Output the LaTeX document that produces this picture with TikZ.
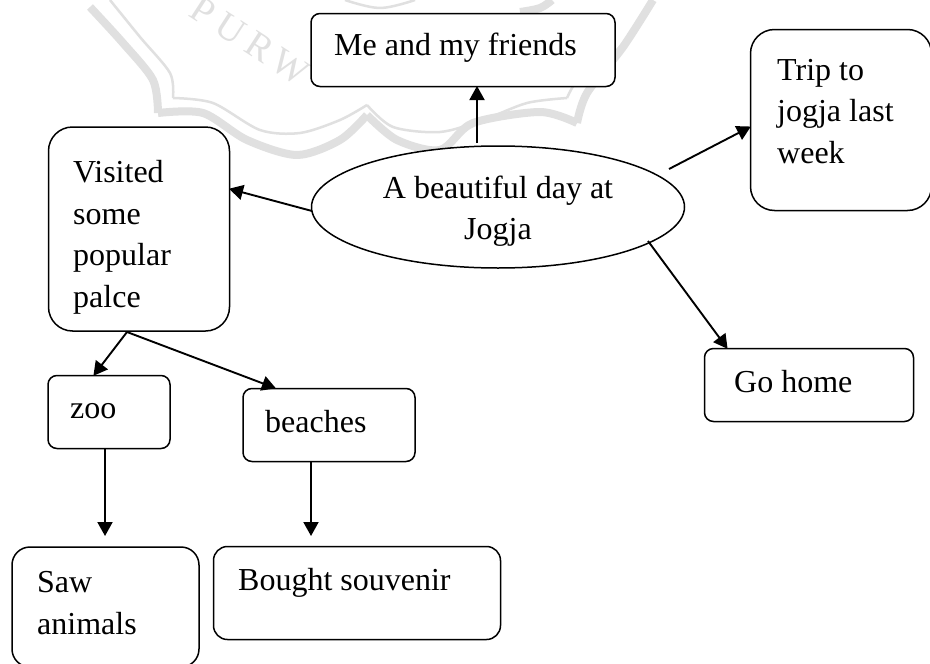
\documentclass[tikz,border=0pt]{standalone}
\usepackage{fontspec}
\setmainfont{Liberation Serif}
\usetikzlibrary{arrows.meta,shapes.geometric}
\definecolor{wm}{HTML}{E0E0E0}
\tikzset{
 box/.style={draw,fill=white,line width=1.5pt,rounded corners=#1,inner sep=0pt},
 box/.default=9pt,
 lab/.style={inner sep=0pt,align=left,font=\fontsize{32}{41.5}\selectfont,anchor=base west},
 con/.style={draw,line width=1.9pt,-{Triangle[length=14pt,width=15pt]},shorten >=-1pt},
 wmthin/.style={draw=wm,line width=2.5pt,smooth,line join=round},
 wmthick/.style={draw=wm,line width=8pt,smooth,line join=round}
}
\begin{document}
\begin{tikzpicture}[x=1pt,y=-1pt]
\useasboundingbox (0,0) rectangle (930,664);
\fill[white] (0,0) rectangle (930,664);
% faint watermark behind the diagram
\draw[wmthin] plot[smooth,tension=0.5] coordinates {(110,0) (140,37) (170,73) (173,98)};
\draw[wmthin] plot[smooth,tension=0.5] coordinates {(173,98) (213,103) (260,130) (300,133) (340,120) (367,105)};
\draw[wmthin] plot[smooth,tension=0.5] coordinates {(367,105) (393,127) (440,132) (483,120) (527,103) (567,98)};
\draw[wmthin] plot[smooth,tension=0.5] coordinates {(567,98) (580,77) (617,50) (650,7)};
\draw[wmthick] plot[smooth,tension=0.5] coordinates {(90,7) (123,43) (153,80) (158,113)};
\draw[wmthick] plot[smooth,tension=0.5] coordinates {(158,113) (203,113) (247,140) (297,155) (340,140) (367,115)};
\draw[wmthick] plot[smooth,tension=0.5] coordinates {(367,115) (397,140) (440,150) (473,123) (540,112) (577,123)};
\draw[wmthick] plot[smooth,tension=0.5] coordinates {(577,123) (587,93) (623,47) (653,0)};
\draw[wmthin] plot[smooth,tension=0.6] coordinates {(345,0) (380,8) (415,0)};
\draw[wmthick] plot[smooth,tension=0.6] coordinates {(520,12) (540,8) (552,0)};
\node[inner sep=0pt,text=wm,rotate=-33,font=\fontsize{38}{38}\selectfont\addfontfeature{LetterSpace=22}] (wmtext) at (250,41) {PURW};
% boxes
\node[box=9pt,minimum width=304pt,minimum height=73pt] (me) at (463,50) {};
\node[box=24pt,minimum width=181pt,minimum height=181pt] (trip) at (841,120) {};
\node[box=24pt,minimum width=181pt,minimum height=204pt] (vis) at (139,229) {};
\node[draw,fill=white,line width=1.5pt,ellipse,minimum width=373pt,minimum height=122pt,inner sep=0pt] (main) at (498,207) {};
\node[box=9pt,minimum width=209pt,minimum height=73pt] (home) at (809,385) {};
\node[box=9pt,minimum width=122pt,minimum height=73pt] (zoo) at (109,412) {};
\node[box=9pt,minimum width=172pt,minimum height=73pt] (bea) at (329,425) {};
\node[box=18pt,minimum width=187pt,minimum height=120pt] (saw) at (105.5,607) {};
\node[box=14pt,minimum width=287pt,minimum height=93pt] (bou) at (357,593) {};
% labels
\node[lab] (t1) at (334,55) {Me and my friends};
\node[lab] (t2) at (777,163) {Trip to\\jogja last\\week};
\node[lab] (t3) at (73,307) {Visited\\some\\popular\\palce};
\node[lab,align=center,anchor=center] (t4) at (498,211) {A beautiful day at\\Jogja};
\node[lab] (t5) at (734,392) {Go home};
\node[lab] (t6) at (70,418) {zoo};
\node[lab] (t7) at (265,432) {beaches};
\node[lab] (t8) at (37,634) {Saw\\animals};
\node[lab] (t9) at (238,590) {Bought souvenir};
% connector free ends
\coordinate (a) at (477,143);
\coordinate (b) at (312,211);
\coordinate (c) at (669,169);
\coordinate (d) at (648,241);
\coordinate (e) at (127,332);
\coordinate (f) at (105,449);
\coordinate (g) at (311,462);
\coordinate (a2) at (477,87);
\coordinate (b2) at (230,189);
\coordinate (c2) at (750,127);
\coordinate (d2) at (727,348);
\coordinate (e2) at (94,375);
\coordinate (e3) at (275,388);
\coordinate (f2) at (105,535);
\coordinate (g2) at (311,535);
\draw[con] (a) -- (a2);
\draw[con] (b) -- (b2);
\draw[con] (c) -- (c2);
\draw[con] (d) -- (d2);
\draw[con] (e) -- (e2);
\draw[con] (e) -- (e3);
\draw[con] (f) -- (f2);
\draw[con] (g) -- (g2);
\end{tikzpicture}
\end{document}
